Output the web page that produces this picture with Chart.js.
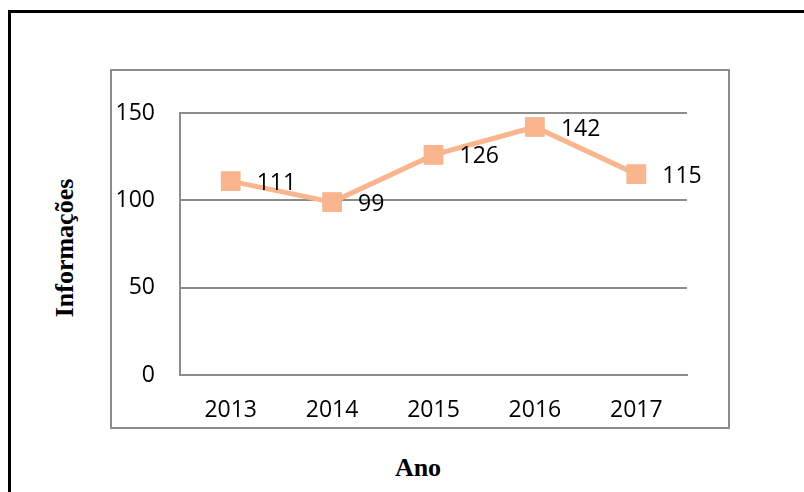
<!DOCTYPE html>
<html lang="pt">
<head>
    <meta charset="UTF-8">
    <title>Informações por ano</title>
    <script src="https://cdn.jsdelivr.net/npm/chart.js"></script>
    <style>
        body { margin: 0; background: #fff; width: 804px; height: 492px; overflow: hidden; position: relative; }
        .frame { position: absolute; left: 8px; top: 10px; width: 900px; height: 600px;
                 border-top: 3px solid #000; border-left: 3px solid #000; }
        .box { position: absolute; left: 110px; top: 69px; width: 620px; height: 360px;
               box-sizing: border-box; border: 2px solid #8c8c8c; }
        .ytitle { position: absolute; left: 65px; top: 248px; transform: translate(-50%, -50%) rotate(-90deg);
                  font: bold 26px "Liberation Serif", serif; white-space: nowrap; }
        .xtitle { position: absolute; left: 418px; top: 468px; transform: translate(-50%, -50%);
                  font: bold 26px "Liberation Serif", serif; }
        canvas { position: absolute; left: 0; top: 0; }
    </style>
</head>
<body>
    <div class="frame"></div>
    <div class="box"></div>
    <div class="ytitle">Informações</div>
    <div class="xtitle">Ano</div>
    <canvas id="chart" width="804" height="492"></canvas>

    <script>
    // dados
    const anos = ['2013', '2014', '2015', '2016', '2017'];
    const informacoes = [111, 99, 126, 142, 115];
    const yTicks = [0, 50, 100, 150];

    const cor = 'rgb(248, 181, 142)';
    const fonte = '"Open Sans", sans-serif';

    // rótulos de valor à direita de cada marcador
    const rotulos = {
        id: 'rotulos',
        afterDatasetsDraw(chart) {
            const ctx = chart.ctx;
            const meta = chart.getDatasetMeta(0);
            ctx.save();
            ctx.font = '23px ' + fonte;
            ctx.fillStyle = '#000';
            ctx.textAlign = 'left';
            ctx.textBaseline = 'middle';
            meta.data.forEach((pt, i) => {
                ctx.fillText(String(informacoes[i]), pt.x + 26, pt.y + 2);
            });
            ctx.restore();
        }
    };

    new Chart(document.getElementById('chart'), {
        type: 'line',
        data: {
            labels: anos,
            datasets: [{
                data: informacoes,
                borderColor: cor,
                backgroundColor: cor,
                borderWidth: 5,
                pointStyle: 'rect',
                pointRadius: 14,
                pointHoverRadius: 14,
                pointBorderWidth: 0,
                tension: 0
            }]
        },
        options: {
            responsive: false,
            animation: false,
            events: [],
            layout: { padding: { left: 110, top: 113, right: 117, bottom: 0 } },
            plugins: { legend: { display: false }, tooltip: { enabled: false } },
            scales: {
                x: {
                    offset: true,
                    grid: { display: false, drawTicks: false },
                    border: { color: '#8c8c8c', width: 2 },
                    ticks: { color: '#000', padding: 22, font: { family: fonte, size: 23 } },
                    afterFit: s => { s.height = 117; }
                },
                y: {
                    min: 0,
                    max: 150,
                    afterBuildTicks: s => { s.ticks = yTicks.map(v => ({ value: v })); },
                    grid: { color: '#8c8c8c', lineWidth: 2, drawTicks: false },
                    border: { color: '#8c8c8c', width: 2 },
                    ticks: { color: '#000', padding: 25, font: { family: fonte, size: 23 } },
                    afterFit: s => { s.width = 70; }
                }
            }
        },
        plugins: [rotulos]
    });
    </script>
</body>
</html>
